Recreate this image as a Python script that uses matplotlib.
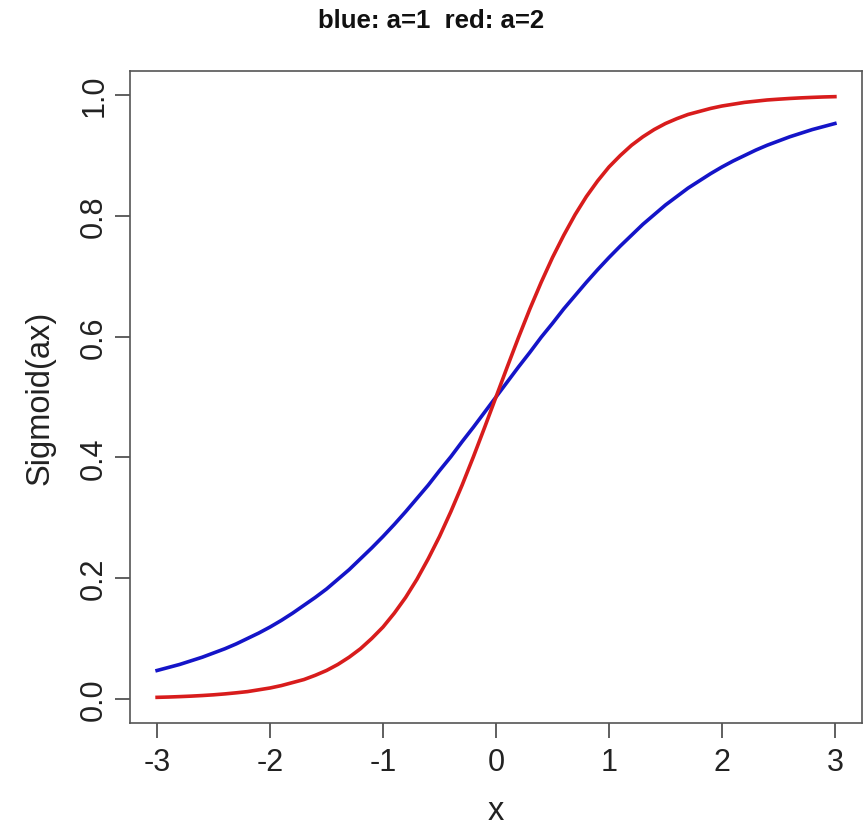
import matplotlib
matplotlib.use("Agg")
import matplotlib.pyplot as plt

# valeurs (pas de 0.1 sur x)
x = [-3.0, -2.9, -2.8, -2.7, -2.6, -2.5, -2.4, -2.3, -2.2, -2.1, -2.0,
     -1.9, -1.8, -1.7, -1.6, -1.5, -1.4, -1.3, -1.2, -1.1, -1.0,
     -0.9, -0.8, -0.7, -0.6, -0.5, -0.4, -0.3, -0.2, -0.1, 0.0,
     0.1, 0.2, 0.3, 0.4, 0.5, 0.6, 0.7, 0.8, 0.9, 1.0,
     1.1, 1.2, 1.3, 1.4, 1.5, 1.6, 1.7, 1.8, 1.9, 2.0,
     2.1, 2.2, 2.3, 2.4, 2.5, 2.6, 2.7, 2.8, 2.9, 3.0]
blue_a1 = [0.047, 0.052, 0.057, 0.063, 0.069, 0.076, 0.083, 0.091, 0.100, 0.109, 0.119,
           0.130, 0.142, 0.155, 0.168, 0.182, 0.198, 0.214, 0.232, 0.250, 0.269,
           0.289, 0.310, 0.332, 0.354, 0.378, 0.401, 0.426, 0.450, 0.475, 0.500,
           0.525, 0.550, 0.574, 0.599, 0.622, 0.646, 0.668, 0.690, 0.711, 0.731,
           0.750, 0.768, 0.786, 0.802, 0.818, 0.832, 0.846, 0.858, 0.870, 0.881,
           0.891, 0.900, 0.909, 0.917, 0.924, 0.931, 0.937, 0.943, 0.948, 0.953]
red_a2 = [0.0025, 0.0030, 0.0037, 0.0045, 0.0055, 0.0067, 0.0082, 0.0100, 0.012, 0.015, 0.018,
          0.022, 0.027, 0.032, 0.039, 0.047, 0.057, 0.069, 0.083, 0.100, 0.119,
          0.142, 0.168, 0.198, 0.232, 0.269, 0.310, 0.354, 0.401, 0.450, 0.500,
          0.550, 0.599, 0.646, 0.690, 0.731, 0.768, 0.802, 0.832, 0.858, 0.881,
          0.900, 0.917, 0.931, 0.943, 0.953, 0.961, 0.968, 0.973, 0.978, 0.982,
          0.985, 0.988, 0.990, 0.992, 0.9933, 0.9945, 0.9955, 0.9963, 0.9970, 0.9975]
xticks = [-3, -2, -1, 0, 1, 2, 3]
yticks = [0.0, 0.2, 0.4, 0.6, 0.8, 1.0]

plt.rcParams['font.family'] = ['Liberation Sans', 'DejaVu Sans']

fig = plt.figure(figsize=(8.63, 8.29), dpi=100)
ax = fig.add_axes([130 / 863, 1 - 724 / 829, 732 / 863, 652 / 829])

ax.plot(x, blue_a1, color='#1414c8', lw=2.6)
ax.plot(x, red_a2, color='#d81c1c', lw=2.6)

ax.set_xlim(-3.24, 3.24)
ax.set_ylim(-0.04, 1.04)
ax.set_xticks(xticks)
ax.set_xticklabels([str(t) for t in xticks])
ax.set_yticks(yticks)
ax.set_yticklabels(['%.1f' % t for t in yticks], rotation=90, va='center')

for s in ax.spines.values():
    s.set_color('#555555')
    s.set_linewidth(1.2)
ax.tick_params(axis='both', length=11, width=1.2, color='#444444',
               labelsize=22, labelcolor='#222222')
ax.tick_params(axis='x', pad=6)
ax.tick_params(axis='y', pad=4)

ax.set_xlabel('x', fontsize=23.5, labelpad=13, color='#222222')
ax.set_ylabel('Sigmoid(ax)', fontsize=23.5, labelpad=17, color='#222222')

fig.text(0.5, 1 - 21 / 829, 'blue: a=1  red: a=2', ha='center', va='center',
         fontsize=18.5, fontweight='bold', color='#111111')

fig.savefig('out.png', dpi=100)
